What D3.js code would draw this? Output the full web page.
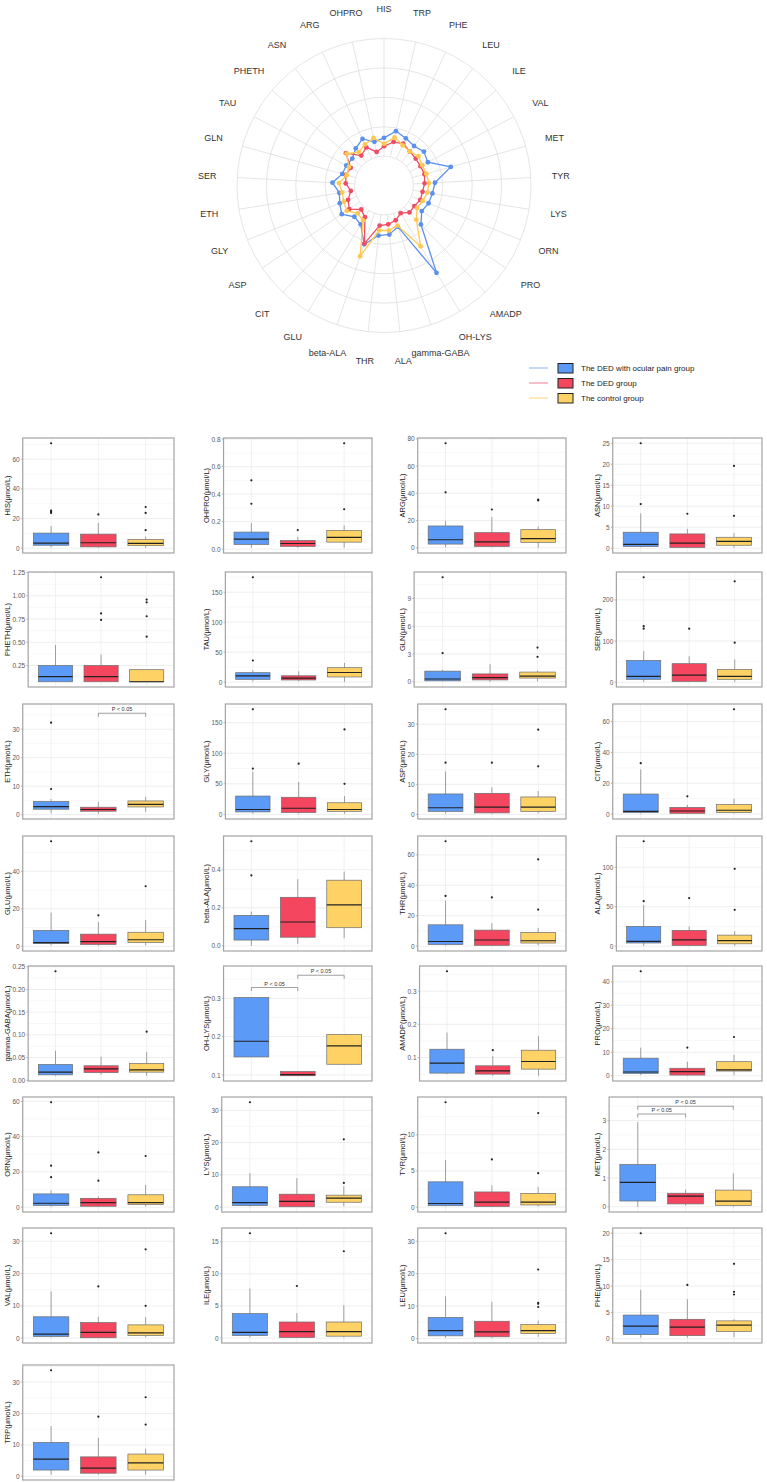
<!DOCTYPE html>
<html><head><meta charset="utf-8">
<script src="https://cdn.jsdelivr.net/npm/d3@7"></script>
<style>body{margin:0;background:#fff;} svg{display:block;font-family:"Liberation Sans",Arial,sans-serif;}</style>
</head><body><svg id="c" width="767" height="1482"></svg>
<script>
// ---------------- DATA ----------------
const radarCats = ["HIS","TRP","PHE","LEU","ILE","VAL","MET","TYR","LYS","ORN","PRO","AMADP","OH-LYS","gamma-GABA","ALA","THR","beta-ALA","GLU","CIT","ASP","GLY","ETH","SER","GLN","TAU","PHETH","ASN","ARG","OHPRO"];
const radarPain    = [0.155,0.223,0.192,0.172,0.195,0.172,0.339,0.184,0.167,0.158,0.138,0.206,0.617,0.121,0.169,0.178,0.277,0.135,0.116,0.184,0.155,0.135,0.189,0.118,0.113,0.104,0.147,0.186,0.130];
const radarDED     = [0.084,0.130,0.141,0.113,0.104,0.101,0.107,0.096,0.082,0.082,0.062,0.065,0.025,0.062,0.082,0.093,0.271,0.065,0.031,0.107,0.079,0.036,0.076,0.087,0.070,0.175,0.070,0.107,0.042];
const radarControl = [0.104,0.169,0.127,0.113,0.135,0.118,0.124,0.133,0.124,0.104,0.090,0.150,0.354,0.110,0.135,0.133,0.385,0.096,0.076,0.133,0.118,0.110,0.133,0.079,0.087,0.167,0.107,0.135,0.164];
const radarTicks = [0, 0.25, 0.5, 0.75, 1];

const groupNames = ["The DED with ocular pain group","The DED group","The control group"];

const boxPanels = ["HIS","OHPRO","ARG","ASN","PHETH","TAU","GLN","SER","ETH","GLY","ASP","CIT","GLU","beta-ALA","THR","ALA","gamma-GABA","OH-LYS","AMADP","PRO","ORN","LYS","TYR","MET","VAL","ILE","LEU","PHE","TRP"];
// [lower whisker, q1, median, q3, upper whisker]
const painStats = [
 [0.5,2,3.5,10.2,15],[0.01,0.034,0.073,0.124,0.19],[0.5,2.7,5.9,16,19.8],[0.2,0.4,0.9,3.8,8.3],
 [0.075,0.075,0.13,0.25,0.47],[1,4.5,10.5,15.7,20],[0.05,0.1,0.3,1.15,1.3],[1,7,14,53,75],
 [0.5,1.9,2.8,4.6,5.5],[1,4,8,30,70],[0.3,1,2.2,6.8,14.3],[0.3,1,1.8,13,29],
 [0.5,1.5,2,8.5,18],[0,0.03,0.09,0.16,0.18],[0.3,1,3,14,30],[0.5,4,6,25,52],
 [0.01,0.012,0.018,0.035,0.065],[0.147,0.147,0.188,0.302,0.302],[0.05,0.053,0.083,0.125,0.175],[0.3,1,1.6,7.5,12],
 [0.3,1,2.2,7.5,9.5],[0.2,0.5,1.4,6.3,10.5],[0.1,0.2,0.5,3.5,6.5],[0,0.2,0.85,1.47,2.95],
 [0.2,0.5,1.2,6.6,14.5],[0.1,0.4,0.9,3.8,7.7],[0.2,0.8,2.4,6.5,13],[0.2,0.8,2.4,4.5,9.3],
 [0.5,2,5.5,10.8,16]];
const dedStats = [
 [0.3,0.9,3.7,9.5,17],[0.01,0.02,0.041,0.063,0.09],[0.3,1,4.4,11.1,22.7],[0.1,0.2,1.2,3.4,4.6],
 [0.075,0.075,0.13,0.25,0.37],[1.5,3.5,6.5,10.5,18],[0,0.2,0.45,0.85,1.9],[1,2,17,45,63],
 [0.3,1.2,1.8,2.6,4.5],[1,3,10,28,53],[0.2,0.5,2.4,7,9],[0.2,0.5,2,4.3,6],
 [0.3,1,2.5,6.5,13],[0.01,0.045,0.125,0.255,0.35],[0.2,0.5,4,10.5,15],[0.5,1,8,20,25],
 [0.012,0.017,0.025,0.032,0.052],[0.098,0.098,0.101,0.109,0.109],[0.045,0.05,0.06,0.075,0.105],[0,0.3,1.8,3.2,6],
 [0.2,0.5,2.5,5,6],[0.1,0.1,1.8,4,9],[0.05,0.1,0.7,2.1,3],[0.05,0.1,0.37,0.47,0.6],
 [0.1,0.1,1.8,4.8,6.6],[0.05,0.1,1,2.5,3.9],[0.2,0.5,2,5.3,11.3],[0.2,0.6,2.2,3.7,7.5],
 [0.5,1,2.6,6.2,12.3]];
const controlStats = [
 [0.3,1.7,3.2,5.9,7.9],[0.01,0.051,0.085,0.136,0.173],[0,4,6.7,13.3,15.6],[0.1,0.7,1.6,2.6,3.6],
 [0.075,0.075,0.075,0.205,0.205],[0.5,8.5,16,24,32],[0.05,0.4,0.6,1.05,1.2],[1,7,14,31,55],
 [1,2.7,3.6,4.8,6.3],[1,5,8,19,30],[0.3,1,2.4,5.8,7.8],[0.3,1,2.5,6.2,10],
 [0.5,2,3.5,7.5,14],[0.04,0.095,0.215,0.345,0.39],[0.5,2,3.5,9,12],[0.5,3,7,14,19],
 [0.01,0.018,0.023,0.037,0.062],[0.128,0.128,0.176,0.206,0.206],[0.045,0.065,0.088,0.122,0.165],[0.3,2,2.5,6,9],
 [0.3,1.5,2.5,7,12.5],[0.3,1.5,2.8,3.7,6.5],[0.1,0.3,0.7,1.9,2.8],[0,0.05,0.2,0.58,1.17],
 [0.2,0.8,1.6,4.1,6.5],[0.1,0.3,1,2.5,5.1],[0.5,1.5,2.4,4.3,5.5],[0.3,1.4,2.6,3.4,3.7],
 [0.5,2,4.3,7.1,8.8]];
const painOutliers = [[23.8,24.6,25.3,70.8],[0.33,0.50],[40.7,76.8],[10.5,25],[],[36,175],[3.1,11.3],[130,136,255],
 [9,32.3],[75,172],[17.2,35],[33],[56],[0.37,0.55],[33,69],[57,133],[0.24],[],[0.36],[44.5],
 [17,23.5,59.5],[32.5],[14.5],[],[32.5],[16.3],[32.5],[20],[33.8]];
const dedOutliers = [[22.8],[0.139],[28.1],[8.2],[0.74,0.81,1.2],[],[],[130],
 [],[83],[17.2],[11.5],[16.5],[],[32],[61],[],[],[0.122],[12],
 [15,31],[],[6.6],[],[16],[8.1],[],[10.2],[19]];
const controlOutliers = [[12.2,23.8,27.8],[0.29,0.77],[34.8,35.4],[7.7,19.6],[0.56,0.78,0.93,0.96],[],[2.7,3.7],[96,245],
 [],[50,139],[16,28.2],[68],[32],[],[24,57],[46,98],[0.107],[],[],[16.5],
 [29],[7.5,21],[4.7,13],[],[10,27.5],[13.5],[9.7,10.7,11,21.3],[8.4,8.9,14.2],[16.5,25.2]];
const yTicks = [[0,20,40,60],[0,0.2,0.4,0.6,0.8],[0,20,40,60,80],[0,5,10,15,20,25],
 [0.25,0.5,0.75,1,1.25],[0,50,100,150],[0,3,6,9],[0,100,200],
 [0,10,20,30],[0,50,100,150],[0,10,20,30],[0,20,40,60],
 [0,20,40],[0,0.2,0.4],[0,20,40,60],[0,50,100],
 [0,0.05,0.1,0.15,0.2,0.25],[0.1,0.2,0.3],[0.1,0.2,0.3],[0,10,20,30,40],
 [0,20,40,60],[0,10,20,30],[0,5,10],[0,1,2,3],
 [0,10,20,30],[0,5,10,15],[0,10,20,30],[0,5,10,15,20],[0,10,20,30]];
// significance brackets: [panel, groupA, groupB, y]
const brackets = [["ETH",2,3,35.6],["OH-LYS",1,2,0.328],["OH-LYS",2,3,0.36],["MET",1,2,3.23],["MET",1,3,3.5]];

// ---------------- STYLE ----------------
const boxFill = ["#5b9bf7","#f5465f","#fed264"];
const lineCol = ["#5b90ec","#ef4c66","#fdc850"];
const legendLine = ["#8fb3f2","#f27d8f","#fbd577"];

const svg = d3.select("#c");

// ---------------- RADAR ----------------
const cx = 384, cy = 185.5, R = 147;
const rScale = d3.scaleLinear().domain([-0.25, 1]).range([0, R]);
const ang = d3.scaleLinear().domain([0, radarCats.length]).range([0, 2 * Math.PI]);
const rg = svg.append("g").attr("transform", `translate(${cx},${cy})`);
radarTicks.forEach(t => rg.append("circle").attr("r", rScale(t)).attr("fill", "none").attr("stroke", "#dedede").attr("stroke-width", 0.8));
radarCats.forEach((c, i) => {
  const a = ang(i), s = Math.sin(a), co = -Math.cos(a);
  rg.append("line").attr("x1", s * rScale(0)).attr("y1", co * rScale(0)).attr("x2", s * rScale(1)).attr("y2", co * rScale(1))
    .attr("stroke", "#dedede").attr("stroke-width", 0.8);
  rg.append("text").attr("x", s * 177).attr("y", co * 177).attr("text-anchor", "middle").attr("dominant-baseline", "central")
    .attr("font-size", 9).attr("fill", "#333").text(c);
});
const radarSeries = [radarPain, radarDED, radarControl];
const lr = d3.lineRadial().angle((d, i) => ang(i)).radius(d => rScale(d)).curve(d3.curveLinearClosed);
radarSeries.forEach((ser, k) => {
  rg.append("path").attr("d", lr(ser)).attr("fill", "none").attr("stroke", lineCol[k]).attr("stroke-width", 1.3);
  ser.forEach((v, i) => {
    const a = ang(i);
    rg.append("circle").attr("cx", Math.sin(a) * rScale(v)).attr("cy", -Math.cos(a) * rScale(v)).attr("r", 2.4).attr("fill", lineCol[k]);
  });
});

// legend
const legY = [368, 383, 398];
groupNames.forEach((n, k) => {
  const y = legY[k];
  svg.append("line").attr("x1", 529).attr("x2", 548).attr("y1", y).attr("y2", y).attr("stroke", legendLine[k]).attr("stroke-width", 1);
  svg.append("rect").attr("x", 558).attr("y", y - 4.5).attr("width", 15).attr("height", 9.5).attr("fill", boxFill[k]).attr("stroke", "#222").attr("stroke-width", 1);
  svg.append("text").attr("x", 581).attr("y", y + 3).attr("font-size", 8).attr("fill", "#222").text(n);
});

// ---------------- BOX PANELS ----------------
const colTitleX = [7, 206, 402, 597];
const colRight = [174, 372, 566, 762];
const rowTop = [438, 572, 704, 836, 966, 1097, 1228, 1365];
const panelH = 115;
const allStats = [painStats, dedStats, controlStats];
const allOut = [painOutliers, dedOutliers, controlOutliers];
const decimals = t => { const s = String(t).split("."); return s[1] ? s[1].length : 0; };

boxPanels.forEach((name, i) => {
  const row = Math.floor(i / 4), col = i % 4;
  const top = rowTop[row], bottom = top + panelH, right = colRight[col];
  const vals = [];
  for (let k = 0; k < 3; k++) { vals.push(...allStats[k][i], ...allOut[k][i]); }
  let lo = d3.min(vals), hi = d3.max(vals);
  const br = brackets.filter(b => b[0] === name);
  if (br.length) { const hb = d3.max(br, b => b[3]); hi = hb + (hb - lo) * 0.04; }
  const pad = (hi - lo) * 0.05;
  const ticks = yTicks[i];
  const fmt = d3.format(`.${d3.max(ticks, decimals)}f`);
  const g = svg.append("g");
  const labs = g.append("g");
  const lt = labs.selectAll("text").data(ticks).join("text").attr("font-size", 6.5).attr("fill", "#5a5a5a")
    .attr("text-anchor", "end").attr("dominant-baseline", "central").text(d => fmt(d));
  let maxW = 0; lt.each(function () { maxW = Math.max(maxW, this.getComputedTextLength()); });
  const left = colTitleX[col] + 8.5 + maxW;
  const y = d3.scaleLinear().domain([lo - pad, hi + pad]).range([bottom, top]);
  const x = d3.scaleLinear().domain([0.4, 3.6]).range([left, right]);
  const grid = g.insert("g", ":first-child");
  const step = ticks[1] - ticks[0];
  const minor = [];
  for (let t = ticks[0] - step / 2; t <= hi + pad; t += step) if (t >= lo - pad) minor.push(t);
  grid.selectAll(".mn").data(minor).join("line").attr("x1", left).attr("x2", right).attr("y1", d => y(d)).attr("y2", d => y(d))
    .attr("stroke", "#f3f3f3").attr("stroke-width", 0.6);
  grid.selectAll(".mj").data(ticks).join("line").attr("x1", left).attr("x2", right).attr("y1", d => y(d)).attr("y2", d => y(d))
    .attr("stroke", "#e6e6e6").attr("stroke-width", 0.7);
  grid.selectAll(".vx").data([1, 2, 3]).join("line").attr("x1", d => x(d)).attr("x2", d => x(d)).attr("y1", top).attr("y2", bottom)
    .attr("stroke", "#ebebeb").attr("stroke-width", 0.7);
  lt.attr("x", left - 3).attr("y", d => y(d));
  g.selectAll(".tk").data(ticks).join("line").attr("x1", left - 1.8).attr("x2", left).attr("y1", d => y(d)).attr("y2", d => y(d))
    .attr("stroke", "#888").attr("stroke-width", 0.6);
  const bw = (x(1.375) - x(1));
  for (let k = 0; k < 3; k++) {
    const s = allStats[k][i], xc = x(k + 1);
    g.append("line").attr("x1", xc).attr("x2", xc).attr("y1", y(s[3])).attr("y2", y(s[4])).attr("stroke", "#8a8a8a").attr("stroke-width", 0.8);
    g.append("line").attr("x1", xc).attr("x2", xc).attr("y1", y(s[0])).attr("y2", y(s[1])).attr("stroke", "#8a8a8a").attr("stroke-width", 0.8);
    g.append("rect").attr("x", xc - bw).attr("width", bw * 2).attr("y", y(s[3])).attr("height", Math.max(0.5, y(s[1]) - y(s[3])))
      .attr("fill", boxFill[k]).attr("stroke", "#6d6d6d").attr("stroke-width", 0.7);
    g.append("line").attr("x1", xc - bw).attr("x2", xc + bw).attr("y1", y(s[2])).attr("y2", y(s[2])).attr("stroke", "#222").attr("stroke-width", 1.2);
    allOut[k][i].forEach(o => g.append("circle").attr("cx", xc).attr("cy", y(o)).attr("r", 1.1).attr("fill", "#222"));
  }
  br.forEach(b => {
    const yb = y(b[3]), x1 = x(b[1]), x2 = x(b[2]);
    g.append("path").attr("d", `M${x1},${yb + 3.5}V${yb}H${x2}V${yb + 3.5}`).attr("fill", "none").attr("stroke", "#777").attr("stroke-width", 0.7);
    g.append("text").attr("x", (x1 + x2) / 2).attr("y", yb - 2).attr("text-anchor", "middle").attr("font-size", 5.5).attr("fill", "#333").text("P < 0.05");
  });
  g.append("rect").attr("x", left).attr("y", top).attr("width", right - left).attr("height", panelH)
    .attr("fill", "none").attr("stroke", "#a3a3a3").attr("stroke-width", 1.2);
  g.append("text").attr("transform", `translate(${colTitleX[col]},${(top + bottom) / 2}) rotate(-90)`)
    .attr("text-anchor", "middle").attr("dominant-baseline", "central").attr("font-size", 7.5).attr("fill", "#222").text(`${name}(μmol/L)`);
});
</script></body></html>
